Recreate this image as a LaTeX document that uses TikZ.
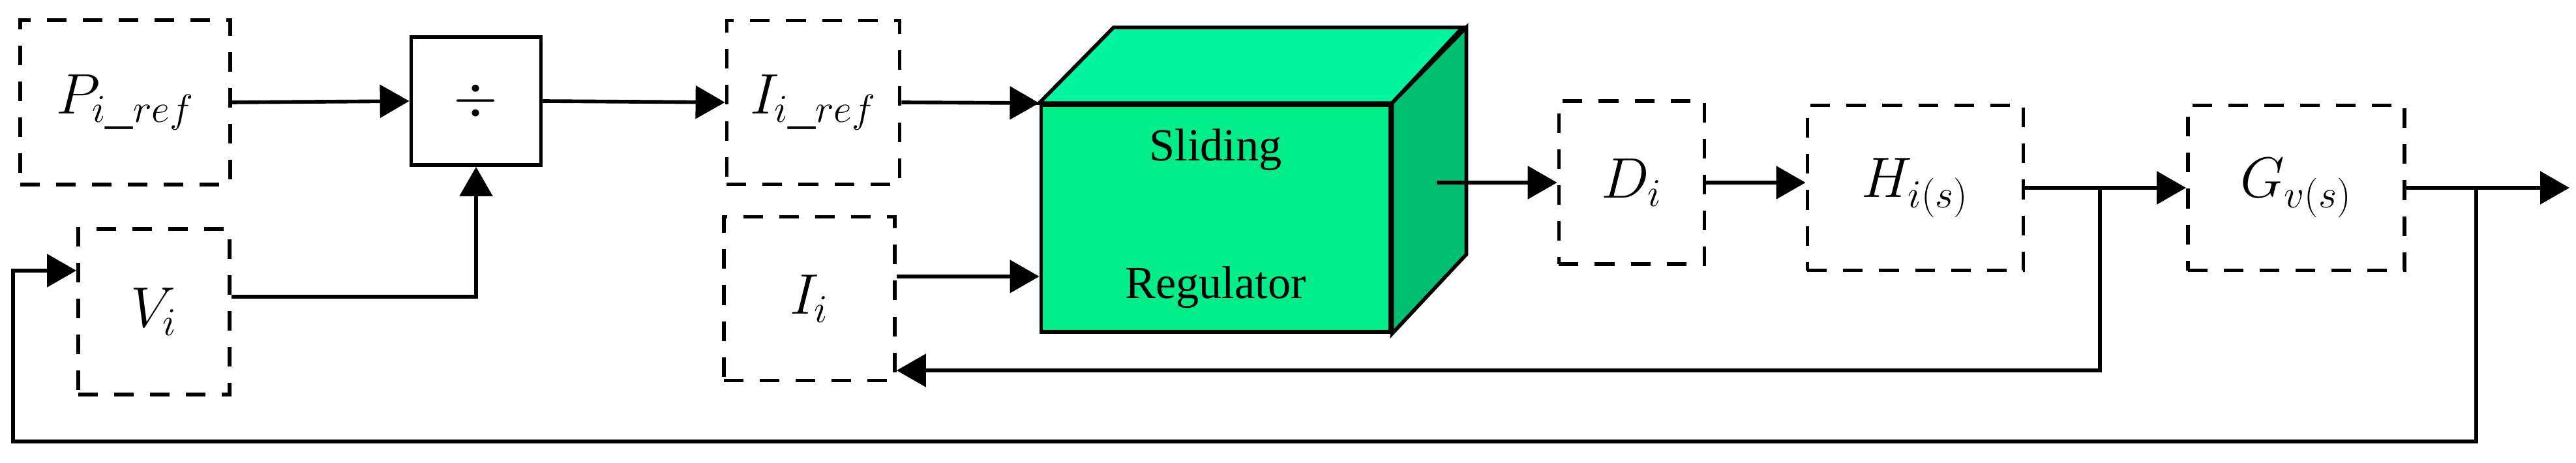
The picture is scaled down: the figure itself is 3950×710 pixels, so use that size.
\documentclass[tikz,border=0pt]{standalone}
\usepackage{fontspec}
\setmainfont{Liberation Serif}
\usetikzlibrary{arrows.meta}
\definecolor{cubefront}{rgb}{0.0,0.93,0.53}
\definecolor{cubetop}{rgb}{0.0,0.96,0.63}
\definecolor{cubeside}{rgb}{0.0,0.75,0.44}
\tikzset{
  dbox/.style={draw,line width=1.6pt,dash pattern=on 0.3cm off 0.25cm,inner sep=0pt,font=\fontsize{24}{28}\selectfont},
  sbox/.style={draw,line width=1.6pt,inner sep=0pt,font=\fontsize{26}{30}\selectfont},
  arr/.style={line width=1.6pt,-{Triangle[length=0.45cm,width=0.5cm]}},
  line/.style={line width=1.6pt},
}
\begin{document}
\begin{tikzpicture}[x=0.01cm,y=-0.01cm]
  \useasboundingbox (0,0) rectangle (3950,710);
  % Blocks
  \node[dbox,minimum width=3.22cm,minimum height=2.52cm] (pref) at (192,157) {$P_{i\_ref}$};
  \node[sbox,minimum width=1.99cm,minimum height=1.96cm] (div) at (730,155) {$\div$};
  \node[dbox,minimum width=2.32cm,minimum height=2.54cm] (vi) at (236,478) {$V_i$};
  \node[dbox,minimum width=2.65cm,minimum height=2.51cm] (iref) at (1247,157) {$I_{i\_ref}$};
  \node[dbox,minimum width=2.62cm,minimum height=2.51cm] (ii) at (1241,458) {$I_i$};
  \node[dbox,minimum width=2.23cm,minimum height=2.50cm] (di) at (2502,280) {$D_i$};
  \node[dbox,minimum width=3.31cm,minimum height=2.53cm] (hs) at (2937,288) {$H_{i(s)}$};
  \node[dbox,minimum width=3.32cm,minimum height=2.53cm] (gv) at (3521,288) {$G_{v(s)}$};
  % Cube
  \node[draw,line width=1.6pt,fill=cubefront,minimum width=5.35cm,minimum height=3.48cm,
        align=center,font=\fontsize{20}{60}\selectfont] (reg) at (1864,335) {Sliding\\Regulator};
  \draw[line width=1.6pt,fill=cubetop] (reg.north west) -- ++(114,-116) -- ++(535,0) -- (reg.north east) -- cycle;
  \draw[line width=1.6pt,fill=cubeside] (reg.north east) -- ++(114,-116) -- ++(0,348) -- (reg.south east) -- cycle;
  \coordinate (cout) at (2203,280);
  \coordinate (b1) at (3220,288);
  \coordinate (b2) at (3797,288);
  \coordinate (out) at (3940,288);
  \coordinate (fb) at (20,677);
  % Connectors
  \draw[arr] (pref.east) -- (div.west);
  \draw[arr] (div.east) -- (iref.west);
  \draw[arr] ([yshift=0.23cm]vi.east) -| (div.south);
  \draw[arr] (iref.east) -- (reg.north west);
  \draw[arr] ([yshift=0.34cm]ii.east) -- ([yshift=0.34cm]ii.east -| reg.west);
  \draw[arr] (cout) -- (di.west);
  \draw[arr] (di.east) -- (di.east -| hs.west);
  \draw[arr] (hs.east) -- (gv.west);
  \draw[arr] (gv.east) -- (out);
  \draw[arr] (b1) |- ([yshift=-1.1cm]ii.east);
  \draw[arr] (b2) |- (fb) |- ([yshift=0.63cm]vi.west);
\end{tikzpicture}
\end{document}
